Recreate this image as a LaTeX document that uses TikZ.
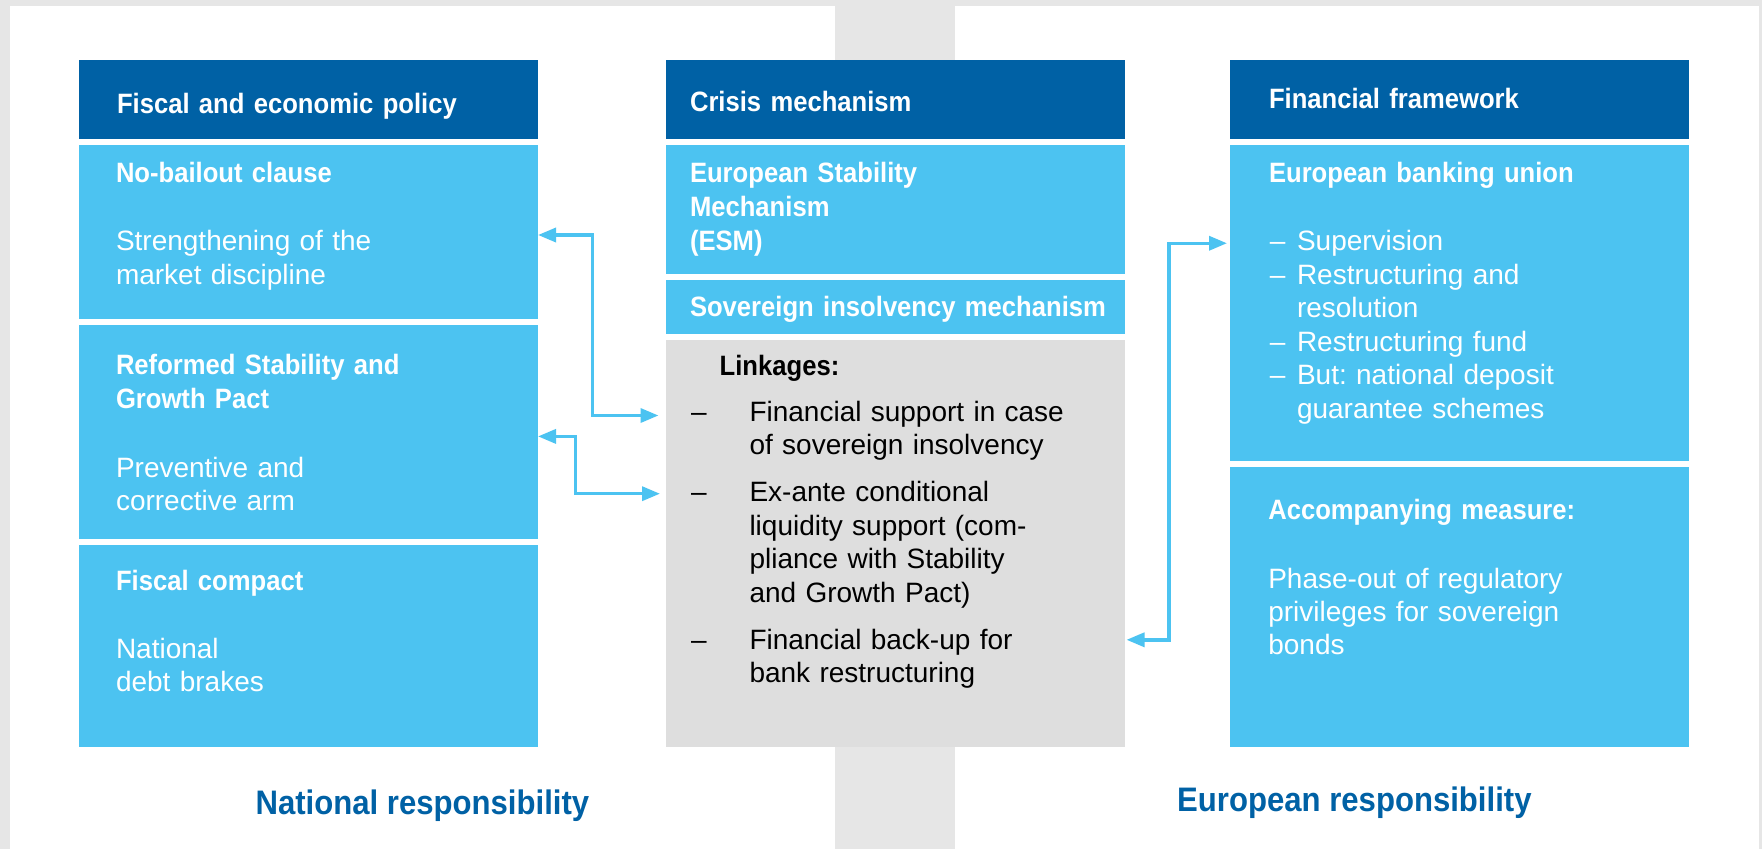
\documentclass[tikz,border=0pt]{standalone}
\usepackage{fontspec}
\setmainfont{Liberation Sans}[BoldFeatures={FakeStretch=0.915}]
\usetikzlibrary{arrows.meta}
\definecolor{hdblue}{HTML}{0061A5}
\definecolor{ltblue}{HTML}{4CC3F1}
\definecolor{linkgrey}{HTML}{DEDEDE}
\definecolor{bggrey}{HTML}{E6E6E6}
\frenchspacing
\begin{document}
\begin{tikzpicture}[x=1pt,y=-1pt,
  box/.style={fill=ltblue, inner sep=0pt, outer sep=0pt, anchor=north west, minimum width=459pt},
  hdbox/.style={box, fill=hdblue, minimum height=78.7pt},
  txt/.style={inner sep=0pt, outer sep=0pt, anchor=base west, text width=440pt, align=left, text=white, font=\fontsize{28}{33.7}\selectfont},
  ttl/.style={txt, font=\fontsize{28}{33.7}\selectfont\bfseries},
  dsh/.style={txt, text width=20pt},
  lbl/.style={inner sep=0pt, outer sep=0pt, anchor=base west, text=hdblue, font=\fontsize{34}{40}\selectfont\bfseries},
  conn/.style={draw=ltblue, line width=3.4pt, {Triangle[length=18pt,width=14pt]}-{Triangle[length=18pt,width=14pt]}},
]
\useasboundingbox (0,0) rectangle (1762,849);
\fill[bggrey] (0,0) rectangle (1762,849);
\fill[white] (9.6,5.7) rectangle (835,849);
\fill[white] (954.7,5.7) rectangle (1759,849);
\fill[white] (666,60) rectangle (1125,746.8);

% left column
\node[hdbox] (h1) at (79,60) {};
\node[box, minimum height=174pt] (nobail) at (79,145) {};
\node[box, minimum height=213.6pt] (sgp) at (79,325) {};
\node[box, minimum height=202pt] (fc) at (79,544.7) {};
% middle column
\node[hdbox] (h2) at (666,60) {};
\node[box, minimum height=129pt] (esm) at (666,145) {};
\node[box, minimum height=54pt] (sov) at (666,280) {};
\node[box, fill=linkgrey, minimum height=406.8pt] (link) at (666,340) {};
% right column
\node[hdbox] (h3) at (1230,60) {};
\node[box, minimum height=315.7pt] (bank) at (1230,145) {};
\node[box, minimum height=279.8pt] (acc) at (1230,467) {};

% left texts
\node[ttl] (t1) at (117,113) {Fiscal and economic policy};
\node[ttl] (t2) at (116,182.7) {No-bailout clause};
\node[txt] (t3) at (116,250.7) {Strengthening of the\\market discipline};
\node[ttl] (t4) at (116,374.7) {Reformed Stability and\\Growth Pact};
\node[txt] (t5) at (116,477.2) {Preventive and\\corrective arm};
\node[ttl] (t6) at (116,590.6) {Fiscal compact};
\node[txt] (t7) at (116,658) {National\\debt brakes};

% middle texts
\node[ttl] (m1) at (690,111) {Crisis mechanism};
\node[ttl] (m2) at (690,182.7) {European Stability\\Mechanism\\(ESM)};
\node[ttl] (m3) at (690,316.7) {Sovereign insolvency mechanism};
\node[ttl, text=black] (m4) at (719.7,375.7) {Linkages:};
\node[dsh, text=black] (md1) at (691,421.2) {–};
\node[txt, text=black, text width=360pt] (ml1) at (749.5,421.2) {Financial support in case\\of sovereign insolvency};
\node[dsh, text=black] (md2) at (691,501.5) {–};
\node[txt, text=black, text width=360pt] (ml2) at (749.5,501.5) {Ex-ante conditional\\liquidity support (com-\\pliance with Stability\\and Growth Pact)};
\node[dsh, text=black] (md3) at (691,649) {–};
\node[txt, text=black, text width=360pt] (ml3) at (749.5,649) {Financial back-up for\\bank restructuring};

% right texts
\node[ttl] (r1) at (1269,108) {Financial framework};
\node[ttl] (r2) at (1269,182.7) {European banking union};
\node[dsh] (rd1) at (1269.8,250.7) {–};
\node[txt, text width=380pt] (rl1) at (1297,250.7) {Supervision};
\node[dsh] (rd2) at (1269.8,284) {–};
\node[txt, text width=380pt] (rl2) at (1297,284) {Restructuring and\\resolution};
\node[dsh] (rd3) at (1269.8,351) {–};
\node[txt, text width=380pt] (rl3) at (1297,351) {Restructuring fund};
\node[dsh] (rd4) at (1269.8,384.8) {–};
\node[txt, text width=380pt] (rl4) at (1297,384.8) {But: national deposit\\guarantee schemes};
\node[ttl] (r3) at (1268.3,519.7) {Accompanying measure:};
\node[txt, font=\fontsize{28}{32.9}\selectfont] (r4) at (1268.3,588.2) {Phase-out of regulatory\\privileges for sovereign\\bonds};

% bottom labels
\node[lbl] (n1) at (255.6,814.3) {National responsibility};
\node[lbl] (n2) at (1177.2,811) {European responsibility};

% connectors
\draw[conn] ([yshift=-3pt]nobail.east) -- ++(54.4,0) |- ([xshift=-7.5pt,yshift=127.9pt]link.west);
\draw[conn] ([yshift=-4.6pt]sgp.east) -- ++(37.2,0) |- ([xshift=-6pt,yshift=49.7pt]link.west);
\draw[conn] ([xshift=-3pt,yshift=59.6pt]bank.west) -- ++(-58,0) |- ([xshift=1.5pt,yshift=-96.4pt]link.east);
\end{tikzpicture}
\end{document}
